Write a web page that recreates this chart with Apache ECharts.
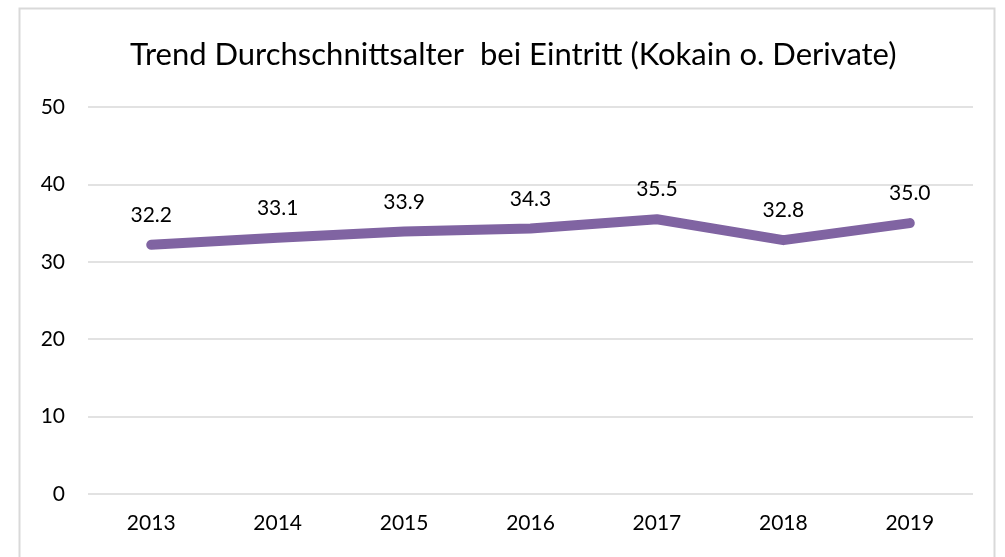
<!DOCTYPE html>
<html>
<head>
<meta charset="utf-8">
<script src="https://cdn.jsdelivr.net/npm/echarts@6/dist/echarts.min.js"></script>
<style>
  html,body{margin:0;padding:0;background:#fff;}
  #main{width:1005px;height:557px;}
</style>
</head>
<body>
<div id="main"></div>
<script>
var years = ['2013','2014','2015','2016','2017','2018','2019'];
var avgAge = [32.2, 33.1, 33.9, 34.3, 35.5, 32.8, 35.0];
var yTicks = [0, 10, 20, 30, 40, 50];

var chart = echarts.init(document.getElementById('main'), null, {renderer:'canvas'});
var fontName = 'Lato';
chart.setOption({
  backgroundColor:'#fff',
  animation:false,
  title:{
    text:'Trend Durchschnittsalter  bei Eintritt (Kokain o. Derivate)',
    left:125,
    top:34,
    textStyle:{fontFamily:fontName, fontSize:31, fontWeight:'normal', color:'#000'}
  },
  graphic:[{
    type:'rect',
    shape:{x:19.5, y:8.5, width:975, height:560},
    style:{fill:'none', stroke:'#d9d9d9', lineWidth:2},
    silent:true
  }],
  grid:{left:88, right:32, top:107, bottom:63},
  xAxis:{
    type:'category',
    data:years,
    boundaryGap:true,
    axisLine:{show:false},
    axisTick:{show:false},
    axisLabel:{fontFamily:fontName, fontSize:21, color:'#000', margin:19}
  },
  yAxis:{
    type:'value',
    min:yTicks[0],
    max:yTicks[yTicks.length-1],
    interval:10,
    axisLine:{show:false},
    axisTick:{show:false},
    axisLabel:{fontFamily:fontName, fontSize:21, color:'#000', margin:23},
    splitLine:{lineStyle:{color:'#d9d9d9', width:1.5}}
  },
  series:[{
    type:'line',
    data:avgAge,
    symbol:'circle',
    symbolSize:2,
    showSymbol:true,
    itemStyle:{color:'#8064a2'},
    lineStyle:{color:'#8064a2', width:10, cap:'round', join:'round'},
    label:{
      show:true,
      position:'top',
      distance:18,
      fontFamily:fontName,
      fontSize:21,
      color:'#000',
      formatter:function(p){ return p.value.toFixed(1); }
    }
  }]
});
</script>
</body>
</html>
